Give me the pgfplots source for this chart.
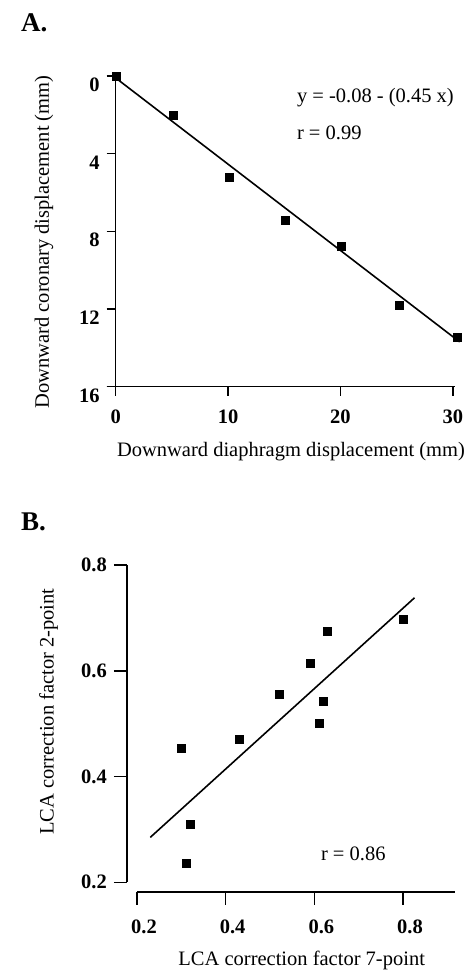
\documentclass[border=0pt]{standalone}
\usepackage{fontspec}
\setmainfont{Liberation Serif}
\usepackage{pgfplots}
\pgfplotsset{compat=1.18}

\pgfplotsset{
  scanstyle/.style={
    scale only axis,
    axis lines=left,
    axis line style={draw=none},
    tick align=outside,
    tick style={black, line width=1.5pt},
    major tick length=9pt,
    /pgf/number format/assume math mode=true,
    ticklabel style={font=\bfseries\fontsize{20.5}{24}\selectfont},
    clip=false,
  }
}

\begin{document}
\fontsize{20.5}{24}\selectfont
\begin{tikzpicture}[x=1pt,y=1pt]
\useasboundingbox (0,0) rectangle (473,-972);

% ---- panel A
\node[anchor=west, font=\bfseries\fontsize{27}{30}\selectfont] at (14,-23) {A.};
\begin{axis}[scanstyle,
    at={(285.4pt,-231.25pt)}, anchor=center,
    width=339.4pt, height=310.5pt,
    xmin=0, xmax=30.2, ymin=0, ymax=16,
    y dir=reverse,
    xtick={0,10,20,30}, xticklabels={0,10,20,30},
    ytick={0,4,8,12,16}, yticklabels={0,4,8,12,16},
    yticklabel style={yshift=-9pt},
    xticklabel style={yshift=-7pt},
]
\draw[line width=1.5pt] (axis cs:-0.8,16) -- (axis cs:30.2,16);
\draw[line width=1.5pt] (axis cs:0,0) -- (axis cs:0,16);
\addplot[black, line width=1.6pt] coordinates {(0,0.1) (30.6,13.7)};
\addplot[only marks, mark=square*, mark size=4pt, black] coordinates {
  (0,0) (5.1,2.0) (10.1,5.2) (15.1,7.45) (20.1,8.75) (25.2,11.8) (30.4,13.45)
};
\end{axis}
\node[rotate=90] at (44,-242) {Downward coronary displacement (mm)};
\node at (291,-452) {Downward diaphragm displacement (mm)};
\node[anchor=west] at (290,-98) {y = -0.08 - (0.45 x)};
\node[anchor=west] at (290,-133) {r = 0.99};

% ---- panel B
\node[anchor=west, font=\bfseries\fontsize{27}{30}\selectfont] at (14,-522) {B.};
\begin{axis}[scanstyle,
    at={(291.05pt,-728.4pt)}, anchor=center,
    width=328.5pt, height=326.8pt,
    xmin=0.177, xmax=0.918, ymin=0.182, ymax=0.8,
    xtick={0.2,0.4,0.6,0.8}, xticklabels={0.2,0.4,0.6,0.8},
    ytick={0.2,0.4,0.6,0.8}, yticklabels={0.2,0.4,0.6,0.8},
    major tick length=13pt,
    xticklabel style={xshift=7pt, yshift=-8pt},
]
\draw[line width=1.5pt] (axis cs:0.177,0.2) -- (axis cs:0.177,0.8);
\draw[line width=1.5pt] (axis cs:0.2,0.182) -- (axis cs:0.918,0.182);
\addplot[black, line width=1.6pt] coordinates {(0.23,0.285) (0.826,0.738)};
\addplot[only marks, mark=square*, mark size=4pt, black] coordinates {
  (0.30,0.453) (0.43,0.47) (0.52,0.555) (0.59,0.615) (0.63,0.675)
  (0.62,0.543) (0.61,0.50) (0.80,0.698) (0.32,0.31) (0.31,0.236)
};
\end{axis}
\node[rotate=90] at (48.5,-711.7) {LCA correction factor 2-point};
\node at (301.7,-960) {LCA correction factor 7-point};
\node[anchor=west] at (314,-854) {r = 0.86};
\end{tikzpicture}
\end{document}
